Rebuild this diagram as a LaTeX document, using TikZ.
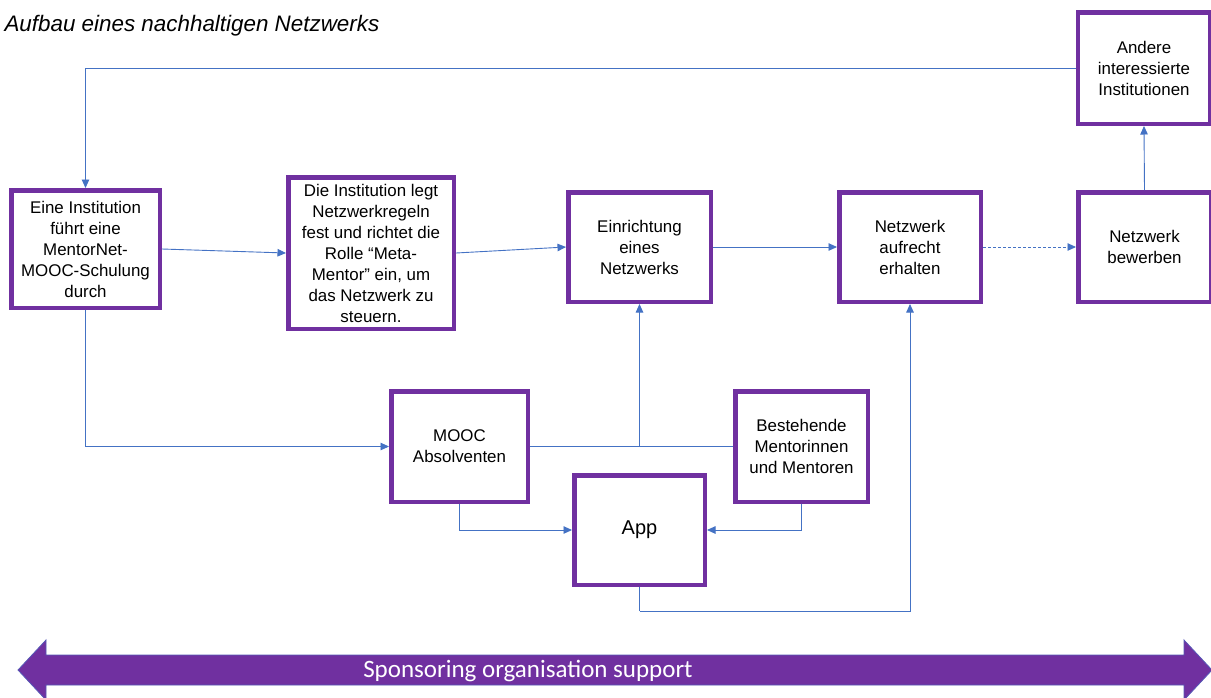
\documentclass[tikz,border=0pt]{standalone}
\usepackage{fontspec}
\setmainfont{Liberation Sans}
\newfontfamily\calib{Carlito}
\usetikzlibrary{arrows.meta}
\definecolor{purp}{HTML}{7030A0}
\definecolor{conn}{HTML}{4472C4}
\begin{document}
\begin{tikzpicture}[x=1pt,y=-1pt,
  box/.style={draw=purp,line width=4.5pt,fill=white,align=center,inner sep=2pt,
    font=\fontsize{16.9}{21}\selectfont},
  link/.style={draw=conn,line width=0.9pt},
  arr/.style={link,-{Triangle[length=8.5pt,width=7.5pt]}}]
\useasboundingbox (0,0) rectangle (1211,697);
\node[anchor=base west,font=\fontsize{22.4}{26}\selectfont\itshape] (title) at (1,31) {Aufbau eines nachhaltigen Netzwerks};
\node[box,minimum width=148.5pt,minimum height=117.5pt] (A) at (85.5,249) {Eine Institution\\führt eine\\MentorNet-\\MOOC-Schulung\\durch};
\node[box,minimum width=165.5pt,minimum height=151.5pt] (B) at (371,253) {Die Institution legt\\Netzwerkregeln\\fest und richtet die\\Rolle “Meta-\\Mentor” ein, um\\das Netzwerk zu\\steuern.};
\node[box,minimum width=142.5pt,minimum height=109.5pt] (C) at (639.5,247) {Einrichtung\\eines\\Netzwerks};
\node[box,minimum width=141.5pt,minimum height=109.5pt] (D) at (910,247) {Netzwerk\\aufrecht\\erhalten};
\node[box,minimum width=132.5pt,minimum height=109.5pt] (E) at (1144.5,247) {Netzwerk\\bewerben};
\node[box,minimum width=132.5pt,minimum height=111.5pt] (F) at (1144,68) {Andere\\interessierte\\Institutionen};
\node[box,minimum width=136.5pt,minimum height=110.5pt] (G) at (459.5,446.5) {MOOC\\Absolventen};
\node[box,minimum width=130.5pt,minimum height=109.5pt,font=\fontsize{20}{24}\selectfont] (H) at (639.5,530) {App};
\node[box,minimum width=132.5pt,minimum height=110.5pt] (I) at (801.5,446.5) {Bestehende\\Mentorinnen\\und Mentoren};
% connectors
\draw[arr] (A.east) -- (B.west);
\draw[arr] (B.east) -- (C.west);
\draw[arr] (C.east) -- (D.west);
\draw[arr,dashed,dash pattern=on 3pt off 2pt] (D.east) -- (E.west);
\draw[arr] (E.north) -- (F.south);
\draw[arr] (F.west) -| (A.north);
\draw[arr] (A.south) |- (G.west);
\draw[link] (G.east) -- (I.west);
\coordinate (J) at (C.south |- G.east);
\draw[arr] (J) -- (C.south);
\draw[arr] (G.south) |- (H.west);
\draw[arr] (I.south) |- (H.east);
\coordinate (K) at (639.5,611);
\draw[link] (H.south) -- (K);
\draw[arr] (K) -| (D.south);
% bottom arrow
\draw[fill=purp,draw=conn!60!purp,line width=0.8pt] (18,670) -- (46,640) -- (46,655) -- (1184,655) -- (1184,640) -- (1212,670) -- (1184,700) -- (1184,685) -- (46,685) -- (46,700) -- cycle;
\node[text=white,font=\calib\fontsize{25}{28}\selectfont] (S) at (528,671) {Sponsoring organisation support};
\end{tikzpicture}
\end{document}
